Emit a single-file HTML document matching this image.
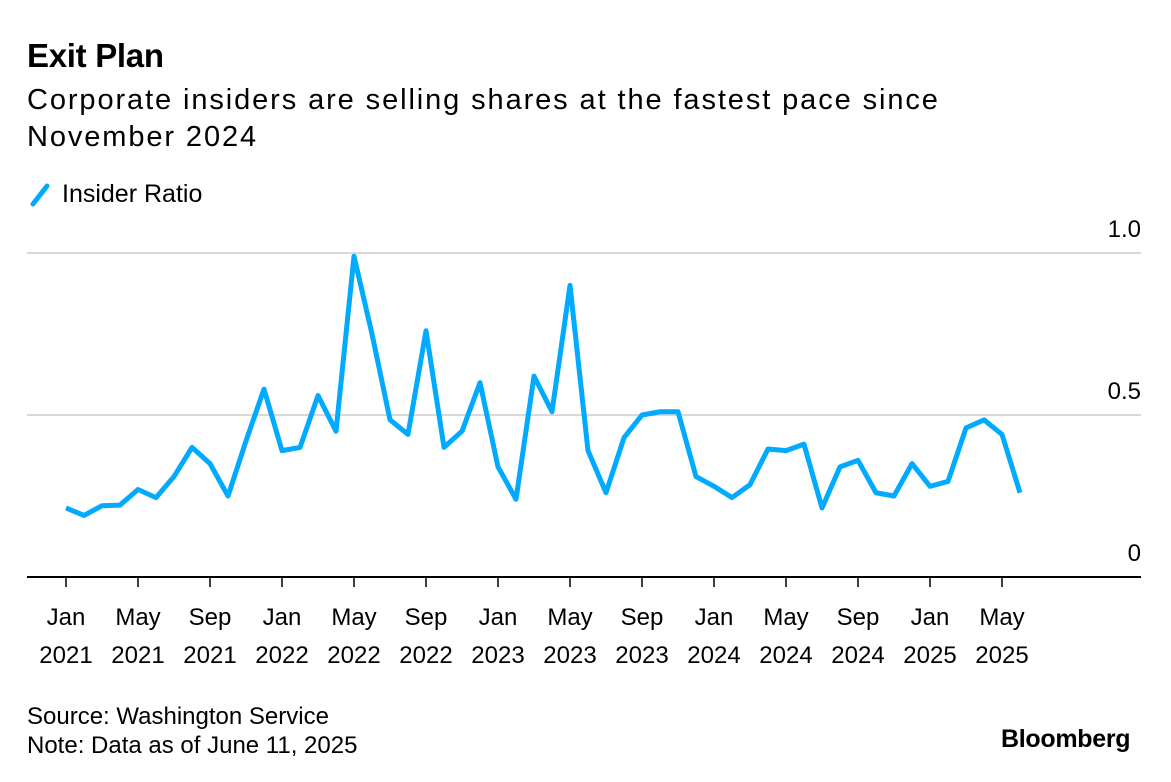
<!DOCTYPE html>
<html><head><meta charset="utf-8"><style>
body{margin:0;background:#fff;font-family:"Liberation Sans",sans-serif;}
#wrap{position:relative;width:1171px;height:782px;overflow:hidden;}
.t{position:absolute;color:#000;white-space:nowrap;}
</style></head><body>
<div id="wrap">
<div class="t" style="left:27px;top:37px;font-size:33px;font-weight:bold;letter-spacing:-0.3px">Exit Plan</div>
<div class="t" style="left:27px;top:82px;font-size:29px;line-height:37px;letter-spacing:1.9px">Corporate insiders are selling shares at the fastest pace since<br>November 2024</div>
<div style="position:absolute;left:27px;top:180px;height:30px;">
<svg width="26" height="30" style="position:absolute;left:0;top:0"><line x1="6" y1="24" x2="20" y2="6" stroke="#00aaff" stroke-width="5" stroke-linecap="round"/></svg>
<span class="t" style="left:35px;top:0px;font-size:25px">Insider Ratio</span></div>
<svg id="chart" width="1171" height="782" style="position:absolute;left:0;top:0"></svg>
<div class="t" style="left:27px;top:702px;font-size:24px;line-height:29px">Source: Washington Service<br>Note: Data as of June 11, 2025</div>
<div class="t" style="left:1001px;top:725px;font-size:25px;font-weight:bold;letter-spacing:-0.3px">Bloomberg</div>
</div>
<script>
const values=[0.213,0.19,0.22,0.222,0.27,0.245,0.31,0.40,0.35,0.25,0.42,0.58,0.39,0.40,0.56,0.45,0.99,0.75,0.485,0.44,0.76,0.40,0.45,0.60,0.34,0.24,0.62,0.51,0.90,0.39,0.26,0.43,0.50,0.51,0.51,0.31,0.28,0.245,0.285,0.395,0.39,0.41,0.213,0.34,0.36,0.26,0.25,0.35,0.28,0.295,0.46,0.485,0.44,0.26];
const yTicks=[0,0.5,1.0];
const yTickLabels=["0","0.5","1.0"];
const xTickIdx=[0,4,8,12,16,20,24,28,32,36,40,44,48,52];
const xTickTop=["Jan","May","Sep","Jan","May","Sep","Jan","May","Sep","Jan","May","Sep","Jan","May"];
const xTickBottom=["2021","2021","2021","2022","2022","2022","2023","2023","2023","2024","2024","2024","2025","2025"];
const NS="http://www.w3.org/2000/svg";
const svg=document.getElementById('chart');
const x=i=>66+18*i;
const y=v=>577-324*v;
function mk(tag,attrs){const e=document.createElementNS(NS,tag);for(const k in attrs)e.setAttribute(k,attrs[k]);svg.appendChild(e);return e;}
yTicks.forEach((v,k)=>{
  if(v>0){const g=mk('line',{x1:27,x2:1141,y1:y(v),y2:y(v),stroke:'#d9d9d9','stroke-width':2});
  
  }
  const t=mk('text',{x:1141,y:y(v)-16,'text-anchor':'end','font-size':24,'font-family':'Liberation Sans, sans-serif',fill:'#000'});
  t.textContent=yTickLabels[k];
  
  
});
const ax=mk('line',{x1:27,x2:1141,y1:577,y2:577,stroke:'#000','stroke-width':2});


xTickIdx.forEach((i,k)=>{
  const tk=mk('line',{x1:x(i),x2:x(i),y1:577,y2:587,stroke:'#000','stroke-width':1.5});
  
  
  const t1=mk('text',{x:x(i),y:625,'text-anchor':'middle','font-size':24,'font-family':'Liberation Sans, sans-serif'});
  t1.textContent=xTickTop[k];
  
  
  const t2=mk('text',{x:x(i),y:663,'text-anchor':'middle','font-size':24,'font-family':'Liberation Sans, sans-serif'});
  t2.textContent=xTickBottom[k];
  
  
});
const p=mk('polyline',{points:values.map((v,i)=>x(i)+','+y(v)).join(' '),fill:'none',stroke:'#00aaff','stroke-width':5,'stroke-linejoin':'round'});


</script>
</body></html>
